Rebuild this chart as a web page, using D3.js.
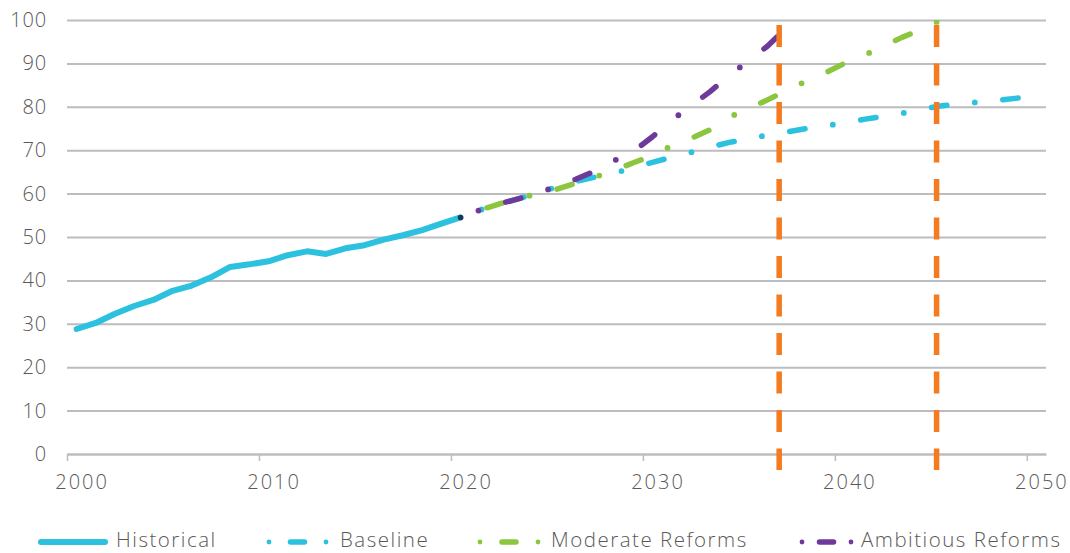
<!DOCTYPE html>
<html>
<head>
<meta charset="utf-8">
<script src="https://cdn.jsdelivr.net/npm/d3@7/dist/d3.min.js"></script>
<style>
  html, body { margin: 0; padding: 0; background: #ffffff; }
  svg { display: block; }
  text { font-family: "Open Sans", "Lato", sans-serif; font-weight: 300; fill: #595959; }
</style>
</head>
<body>
<svg id="chart" width="1070" height="553"></svg>
<script>
// ---- data ----
const histYears = [2000, 2001, 2002, 2003, 2004, 2005, 2006, 2007, 2008, 2009, 2010,
                   2011, 2012, 2013, 2014, 2015, 2016, 2017, 2018, 2019, 2020];
const histValues = [28.8, 30.2, 32.3, 34.1, 35.5, 37.6, 38.8, 40.7, 43.1, 43.7, 44.4,
                    45.8, 46.7, 46.1, 47.4, 48.1, 49.4, 50.4, 51.6, 53.1, 54.5];

const projYears = [2020, 2021, 2022, 2023, 2024, 2025, 2026, 2027, 2028, 2029, 2030,
                   2031, 2032, 2033, 2034, 2035, 2036, 2037, 2038, 2039, 2040,
                   2041, 2042, 2043, 2044, 2045, 2046, 2047, 2048, 2049, 2050];
const baselineValues = [54.5, 56.2, 57.6, 58.8, 60.0, 61.6, 62.8, 63.8, 64.7, 66.0, 67.2,
                        68.4, 69.5, 70.7, 71.8, 72.6, 73.5, 74.2, 75.0, 75.6, 76.3,
                        77.1, 77.8, 78.5, 79.4, 80.2, 80.7, 81.1, 81.5, 82.0, 82.5];
const moderateValues = [54.5, 56.2, 57.6, 58.8, 60.0, 61.0, 62.4, 63.8, 65.3, 67.1, 68.7,
                        71.0, 72.7, 74.7, 77.6, 79.6, 81.6, 83.8, 85.9, 87.8, 90.0,
                        91.8, 93.9, 96.0, 97.8, 100.0];
const ambitiousValues = [54.5, 56.2, 57.6, 58.8, 60.0, 61.7, 63.3, 65.2, 67.6, 69.7, 73.1,
                         76.9, 80.2, 83.5, 87.2, 90.6, 94.0, 98.3, 102.5];

// years at which the reform scenarios reach 100
const milestoneYears = [2036.6, 2044.8];

const yTickValues = [0, 10, 20, 30, 40, 50, 60, 70, 80, 90, 100];
const xTickYears = [2000, 2010, 2020, 2030, 2040, 2050];

const seriesNames = ["Historical", "Baseline", "Moderate Reforms", "Ambitious Reforms"];

// ---- styles ----
const COLORS = {
  cyan: "#2cc1df",
  green: "#8cc63f",
  purple: "#6e3a9a",
  orange: "#f47b20",
  navy: "#1e3554",
  grid: "#bdbdbf"
};

const svg = d3.select("#chart");
const plotLeft = 67, plotRight = 1046, plotTop = 20, plotBottom = 454;

const x = d3.scaleLinear().domain([1999.5, 2050.5]).range([plotLeft, plotRight]);
const y = d3.scaleLinear().domain([0, 100]).range([plotBottom, plotTop]);

// ---- y axis with gridlines ----
const yAxis = d3.axisLeft(y)
  .tickValues(yTickValues)
  .tickSize(-(plotRight - plotLeft))
  .tickPadding(20)
  .tickFormat(d3.format("d"));
const gy = svg.append("g").attr("transform", `translate(${plotLeft},0)`).call(yAxis);
gy.select(".domain").remove();
gy.selectAll(".tick line").attr("stroke", COLORS.grid).attr("stroke-width", 2);
gy.selectAll(".tick text")
  .attr("font-size", 20).attr("fill", "#595959")
  .attr("font-family", null).attr("letter-spacing", 0.8);

// ---- x axis: boundary ticks + centred year labels ----
const xTicks = d3.axisBottom(x)
  .tickValues(xTickYears.map(d => d - 0.5))
  .tickSize(7).tickSizeOuter(0)
  .tickFormat("");
const gxTicks = svg.append("g").attr("transform", `translate(0,${plotBottom})`).call(xTicks);
gxTicks.select(".domain").attr("stroke", COLORS.grid).attr("stroke-width", 2);
gxTicks.selectAll(".tick line").attr("stroke", COLORS.grid).attr("stroke-width", 1.5);

const xLabels = d3.axisBottom(x)
  .tickValues(xTickYears)
  .tickSize(0).tickPadding(21)
  .tickFormat(d3.format("d"));
const gxLabels = svg.append("g").attr("transform", `translate(0,${plotBottom})`).call(xLabels);
gxLabels.select(".domain").remove();
gxLabels.selectAll(".tick text")
  .attr("font-size", 20).attr("fill", "#595959")
  .attr("font-family", null).attr("letter-spacing", 2).attr("dx", 5);

// ---- clip to plot area ----
svg.append("clipPath").attr("id", "plotClip")
  .append("rect").attr("x", plotLeft).attr("y", plotTop)
  .attr("width", plotRight - plotLeft).attr("height", plotBottom - plotTop + 10);

const plot = svg.append("g").attr("clip-path", "url(#plotClip)");

const line = d3.line().x(d => d[0]).y(d => d[1]);

// historical
plot.append("path")
  .datum(histYears.map((yr, i) => [x(yr), y(histValues[i])]))
  .attr("d", line)
  .attr("fill", "none")
  .attr("stroke", COLORS.cyan)
  .attr("stroke-width", 6)
  .attr("stroke-linejoin", "round")
  .attr("stroke-linecap", "round");

// ---- projections: long dash - dot pattern ----
// The pattern is laid out along the line with vertical distances weighted by 1/ASPECT,
// so dots and dashes keep the spacing of the original drawing.
const ASPECT = 1.31, PERIOD = 71.5, GAP = 28, DASH = 15.5;

function dashDot(points, anchorYear) {
  const cum = [0];
  for (let i = 1; i < points.length; i++) {
    const dx = points[i][0] - points[i - 1][0];
    const dy = (points[i][1] - points[i - 1][1]) / ASPECT;
    cum.push(cum[i - 1] + Math.hypot(dx, dy));
  }
  const total = cum[cum.length - 1];
  const at = m => {
    let i = 0;
    while (i < cum.length - 2 && cum[i + 1] < m) i++;
    const t = (m - cum[i]) / (cum[i + 1] - cum[i]);
    return [points[i][0] + t * (points[i + 1][0] - points[i][0]),
            points[i][1] + t * (points[i + 1][1] - points[i][1])];
  };
  const slice = (a, b) => {
    const out = [at(a)];
    for (let i = 0; i < cum.length; i++) if (cum[i] > a && cum[i] < b) out.push(points[i]);
    out.push(at(b));
    return out;
  };
  // metric position of the anchor dot
  const ax = x(anchorYear);
  let am = 0;
  for (let i = 1; i < points.length; i++) {
    if (points[i][0] >= ax) {
      const t = (ax - points[i - 1][0]) / (points[i][0] - points[i - 1][0]);
      am = cum[i - 1] + t * (cum[i] - cum[i - 1]);
      break;
    }
  }
  const phase = ((am % PERIOD) + PERIOD) % PERIOD;
  const dots = [], dashes = [];
  for (let s = phase - PERIOD; s <= total; s += PERIOD) {
    if (s >= 0) dots.push(at(s));
    const a = Math.max(s + GAP, 0), b = Math.min(s + GAP + DASH, total);
    if (a < b) dashes.push(slice(a, b));
  }
  return { dots, dashes };
}

const projections = [
  { values: baselineValues, color: COLORS.cyan, anchor: 2035.7 },
  { values: moderateValues, color: COLORS.green, anchor: 2044.8 },
  { values: ambitiousValues, color: COLORS.purple, anchor: 2034.55 }
];
projections.forEach(s => {
  const pts = s.values.map((v, i) => [x(projYears[i]), y(v)]);
  const pat = dashDot(pts, s.anchor);
  const g = plot.append("g");
  g.selectAll("path")
    .data(pat.dashes)
    .join("path")
    .attr("d", line)
    .attr("fill", "none")
    .attr("stroke", s.color)
    .attr("stroke-width", 5.5)
    .attr("stroke-linecap", "round")
    .attr("stroke-linejoin", "round");
  g.selectAll("circle")
    .data(pat.dots)
    .join("circle")
    .attr("cx", d => d[0]).attr("cy", d => d[1])
    .attr("r", 2.9)
    .attr("fill", s.color);
});

// last historical observation
const lastIdx = histYears.length - 1;
plot.append("circle")
  .attr("cx", x(histYears[lastIdx]))
  .attr("cy", y(histValues[lastIdx]))
  .attr("r", 2.8)
  .attr("fill", COLORS.navy);

// ---- milestone markers ----
svg.selectAll("line.milestone")
  .data(milestoneYears)
  .join("line")
  .attr("class", "milestone")
  .attr("x1", d => x(d)).attr("x2", d => x(d))
  .attr("y1", y(100) + 5).attr("y2", y(0) + 16)
  .attr("stroke", COLORS.orange)
  .attr("stroke-width", 5.5)
  .attr("stroke-dasharray", "22,16.5");

// ---- legend ----
const legendY = 542;
const legend = svg.append("g").attr("class", "legend");
const legendItems = [
  { name: seriesNames[0], color: COLORS.cyan, solid: true, x0: 41, x1: 105, tx: 116 },
  { name: seriesNames[1], color: COLORS.cyan, solid: false, x0: 269, x1: 326, tx: 340 },
  { name: seriesNames[2], color: COLORS.green, solid: false, x0: 480, x1: 538, tx: 551 },
  { name: seriesNames[3], color: COLORS.purple, solid: false, x0: 802, x1: 851, tx: 861 }
];
legendItems.forEach(it => {
  const g = legend.append("g");
  if (it.solid) {
    g.append("line")
      .attr("x1", it.x0).attr("x2", it.x1)
      .attr("y1", legendY).attr("y2", legendY)
      .attr("stroke", it.color).attr("stroke-width", 6)
      .attr("stroke-linecap", "round");
  } else {
    const mid = (it.x0 + it.x1) / 2;
    g.append("circle").attr("cx", it.x0).attr("cy", legendY).attr("r", 2.4).attr("fill", it.color);
    g.append("circle").attr("cx", it.x1).attr("cy", legendY).attr("r", 2.4).attr("fill", it.color);
    g.append("line")
      .attr("x1", mid - 7).attr("x2", mid + 7)
      .attr("y1", legendY).attr("y2", legendY)
      .attr("stroke", it.color).attr("stroke-width", 5.5)
      .attr("stroke-linecap", "round");
  }
  g.append("text")
    .attr("x", it.tx).attr("y", 547)
    .attr("font-size", 20.5)
    .attr("letter-spacing", 1.5)
    .text(it.name);
});
</script>
</body>
</html>
